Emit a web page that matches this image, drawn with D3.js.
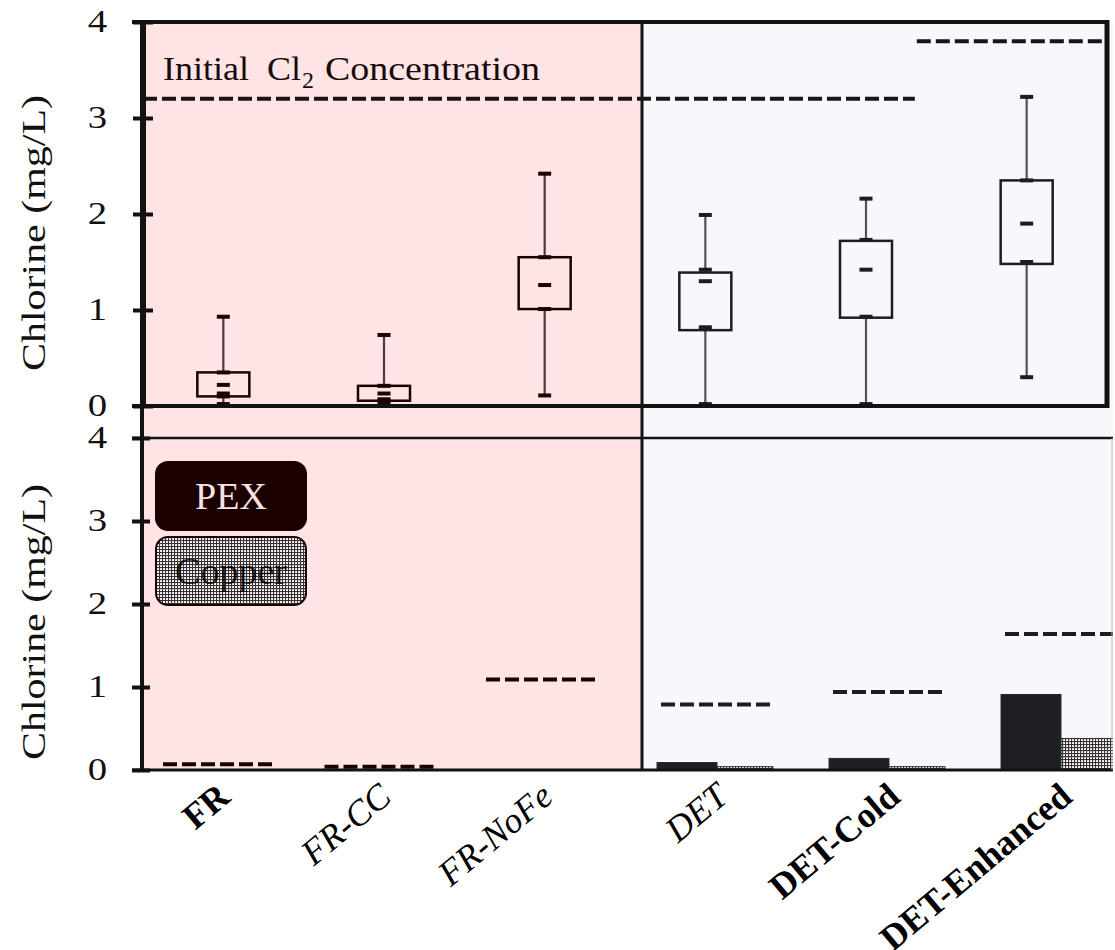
<!DOCTYPE html>
<html>
<head>
<meta charset="utf-8">
<title></title>
<style>
  body { margin: 0; background: #fff; }
  svg text { font-family: "Liberation Serif", "Times New Roman", serif; }
  .axis .domain { display: none; }
  .axis text { font-size: 31px; fill: #111; font-family: "Liberation Serif", serif; }
  .axis line { stroke: #111; stroke-width: 4; }
</style>
</head>
<body>
<script src="https://cdnjs.cloudflare.com/ajax/libs/d3/7.8.5/d3.min.js"></script>
<script>
// ---- data ----
var categories = ["FR", "FR-CC", "FR-NoFe", "DET", "DET-Cold", "DET-Enhanced"];
var boxMin   = [0.02, 0.02, 0.11, 0.02, 0.02, 0.30];
var boxQ1    = [0.10, 0.055, 1.01, 0.79, 0.92, 1.48];
var capQ1    = [0.10, 0.055, 1.01, 0.82, 0.93, 1.50];
var boxQ3    = [0.35, 0.21, 1.55, 1.39, 1.72, 2.35];
var capQ3    = [0.35, 0.21, 1.55, 1.42, 1.73, 2.35];
var boxMax   = [0.93, 0.74, 2.42, 1.99, 2.16, 3.22];
var boxMarks = [[0.22, 0.13], [0.13, 0.07], [1.26], [1.30], [1.42], [1.90]];
var initialCl2 = [3.2, 3.2, 3.2, 3.2, 3.2, 3.8];
var pexValues    = [0, 0, 0, 0.09, 0.14, 0.91];
var copperValues = [0, 0, 0, 0.04, 0.04, 0.38];
var dashValues   = [0.07, 0.04, 1.09, 0.79, 0.94, 1.64];
var yTicks = [0, 1, 2, 3, 4];
var legendItems = ["PEX", "Copper"];
var yTitle = "Chlorine (mg/L)";

// label styles (bold / italic)
var labelStyle = {"FR": "bold", "FR-CC": "italic", "FR-NoFe": "italic",
                  "DET": "italic", "DET-Cold": "bold", "DET-Enhanced": "bold"};

var W = 1115, H = 950;
var svg = d3.select("body").append("svg").attr("width", W).attr("height", H);

var pinkCol = "#fee4e4", blueCol = "#f6f8fc";
function ink(i) { return i < 3 ? "#1a0202" : "#1b1d21"; }
function thin(i) { return i < 3 ? "#4d3a3c" : "#505256"; }

// scales
var xTop = d3.scaleBand().domain(categories).range([143, 1107]);
var yTop = d3.scaleLinear().domain([0, 4]).range([406, 22]);
var yBot = d3.scaleLinear().domain([0, 4]).range([770, 438]);
var xPink = d3.scalePoint().domain(categories.slice(0, 3)).range([219, 542]);
var xBlue = d3.scalePoint().domain(categories.slice(3)).range([717, 1061]);
function xb(c) { return categories.indexOf(c) < 3 ? xPink(c) : xBlue(c); }

// patterns
var defs = svg.append("defs");
var pat = defs.append("pattern").attr("id", "dots").attr("patternUnits", "userSpaceOnUse")
  .attr("width", 3).attr("height", 3);
pat.append("rect").attr("width", 3).attr("height", 3).attr("fill", "#ffffff");
pat.append("rect").attr("width", 1.1).attr("height", 3).attr("fill", "#3a3032");
pat.append("rect").attr("width", 3).attr("height", 1.1).attr("fill", "#3a3032");
var pat2 = defs.append("pattern").attr("id", "holes").attr("patternUnits", "userSpaceOnUse")
  .attr("width", 3).attr("height", 3);
pat2.append("rect").attr("x", 1.3).attr("y", 1.3).attr("width", 1.4).attr("height", 1.4).attr("fill", "#ffffff");
defs.append("clipPath").attr("id", "botclip").append("rect")
  .attr("x", 142).attr("y", 438).attr("width", 971).attr("height", 332);

// backgrounds
svg.append("rect").attr("x", 142).attr("y", 22).attr("width", 500).attr("height", 748).attr("fill", pinkCol);
svg.append("rect").attr("x", 642).attr("y", 22).attr("width", 471).attr("height", 748).attr("fill", blueCol);

// ---------- top panel: box plots ----------
var bw = 52, cw = 13;
var gTop = svg.append("g");
categories.forEach(function(c, i) {
  var cx = xTop(c) + xTop.bandwidth() / 2;
  var g = gTop.append("g");
  // whiskers
  g.append("line").attr("x1", cx).attr("x2", cx).attr("y1", yTop(boxMin[i])).attr("y2", yTop(boxQ1[i]))
    .attr("stroke", thin(i)).attr("stroke-width", 2.2);
  g.append("line").attr("x1", cx).attr("x2", cx).attr("y1", yTop(boxQ3[i])).attr("y2", yTop(boxMax[i]))
    .attr("stroke", thin(i)).attr("stroke-width", 2.2);
  // box
  g.append("rect").attr("x", cx - bw / 2).attr("width", bw)
    .attr("y", yTop(boxQ3[i])).attr("height", yTop(boxQ1[i]) - yTop(boxQ3[i]))
    .attr("fill", "none").attr("stroke", ink(i)).attr("stroke-width", 2.5);
  // caps and marks
  [boxMin[i], capQ1[i], capQ3[i], boxMax[i]].concat(boxMarks[i]).forEach(function(v) {
    g.append("line").attr("x1", cx - cw / 2).attr("x2", cx + cw / 2)
      .attr("y1", yTop(v)).attr("y2", yTop(v))
      .attr("stroke", ink(i)).attr("stroke-width", 4);
  });
});

// initial Cl2 dashed lines (runs of equal value)
var runs = [];
initialCl2.forEach(function(v, i) {
  if (runs.length && runs[runs.length - 1].v === v) runs[runs.length - 1].end = i;
  else runs.push({v: v, start: i, end: i});
});
runs.forEach(function(r, k) {
  var x0 = k === 0 ? xTop.range()[0] : xTop(categories[r.start]) - xTop.step() * 0.19 + 1;
  var x1 = k === runs.length - 1 ? xTop.range()[1] : xTop(categories[runs[k + 1].start]) - xTop.step() * 0.19 - 1;
  gTop.append("line").attr("x1", x0).attr("x2", x1).attr("y1", yTop(r.v)).attr("y2", yTop(r.v))
    .attr("stroke", "#1a1416").attr("stroke-width", 4).attr("stroke-dasharray", "14,5");
});

// Initial Cl2 label
var lab = svg.append("g").attr("fill", "#1a0a0a");
lab.append("text").attr("x", 163).attr("y", 80).attr("font-size", 34)
  .attr("textLength", 86).attr("lengthAdjust", "spacingAndGlyphs").text("Initial");
lab.append("text").attr("x", 267).attr("y", 80).attr("font-size", 34)
  .attr("textLength", 34).attr("lengthAdjust", "spacingAndGlyphs").text("Cl");
lab.append("text").attr("x", 302).attr("y", 88).attr("font-size", 24).text("2");
lab.append("text").attr("x", 325).attr("y", 80).attr("font-size", 34)
  .attr("textLength", 215).attr("lengthAdjust", "spacingAndGlyphs").text("Concentration");

// ---------- bottom panel: bars ----------
var gBot = svg.append("g").attr("clip-path", "url(#botclip)");
var pw = 60, cpw = 56;
categories.forEach(function(c, i) {
  var cx = xb(c);
  if (pexValues[i] > 0)
    gBot.append("rect").attr("x", cx - pw).attr("width", pw)
      .attr("y", yBot(pexValues[i])).attr("height", yBot(0) - yBot(pexValues[i]))
      .attr("fill", "#1d1f22").attr("stroke", "#2a2c30").attr("stroke-width", 1);
  if (copperValues[i] > 0)
    gBot.append("rect").attr("x", cx).attr("width", cpw)
      .attr("y", yBot(copperValues[i])).attr("height", yBot(0) - yBot(copperValues[i]))
      .attr("fill", "url(#dots)").attr("stroke", "#2a2c30").attr("stroke-width", 1);
  gBot.append("line").attr("x1", cx - 56).attr("x2", cx + 56)
    .attr("y1", yBot(dashValues[i])).attr("y2", yBot(dashValues[i]))
    .attr("stroke", ink(i)).attr("stroke-width", 4).attr("stroke-dasharray", "14,5");
});

// legend
var leg = svg.append("g");
legendItems.forEach(function(name, i) {
  var y0 = 462 + i * 75;
  leg.append("rect").attr("x", 156).attr("y", y0).attr("width", 150).attr("height", 68)
    .attr("rx", 12).attr("fill", i === 0 ? "#1a0000" : "url(#dots)")
    .attr("stroke", "#1a0000").attr("stroke-width", 2);
  leg.append("text").attr("x", 231).attr("y", y0 + 47).attr("text-anchor", "middle")
    .attr("font-size", 38).attr("fill", i === 0 ? "#f8e2e2" : "#000")
    .text(name);
  if (i === 1)
    leg.append("rect").attr("x", 157).attr("y", y0 + 1).attr("width", 148).attr("height", 66)
      .attr("rx", 11).attr("fill", "url(#holes)").attr("opacity", 0.35);
});

// ---------- frame and axes ----------
var fr = svg.append("g").attr("stroke", "#121212").attr("fill", "none");
fr.append("line").attr("x1", 132).attr("x2", 1109).attr("y1", 22).attr("y2", 22).attr("stroke-width", 4);
fr.append("line").attr("x1", 1107).attr("x2", 1107).attr("y1", 20).attr("y2", 408).attr("stroke-width", 5);
fr.append("line").attr("x1", 132).attr("x2", 1109).attr("y1", 406).attr("y2", 406).attr("stroke-width", 4);
fr.append("line").attr("x1", 143).attr("x2", 143).attr("y1", 20).attr("y2", 408).attr("stroke-width", 6);
fr.append("line").attr("x1", 142).attr("x2", 142).attr("y1", 406).attr("y2", 772).attr("stroke-width", 4);
fr.append("line").attr("x1", 132).attr("x2", 1113).attr("y1", 438).attr("y2", 438).attr("stroke-width", 2.5);
fr.append("line").attr("x1", 132).attr("x2", 1113).attr("y1", 770).attr("y2", 770).attr("stroke-width", 3);
fr.append("line").attr("x1", 642).attr("x2", 642).attr("y1", 22).attr("y2", 770).attr("stroke-width", 3);
fr.append("line").attr("x1", 1112).attr("x2", 1112).attr("y1", 438).attr("y2", 770).attr("stroke-width", 1).attr("stroke", "#bbb");

var sx = 1.25;
svg.append("g").attr("class", "axis").attr("transform", "translate(143,0)")
  .call(d3.axisLeft(yTop).tickValues(yTicks).tickFormat(d3.format("d")).tickSize(10).tickPadding(26))
  .call(function(a) {
    a.selectAll(".tick line").attr("x1", 10);
    a.selectAll(".tick text").attr("x", -36 / sx).attr("transform", "scale(" + sx + ",1)");
  });
svg.append("g").attr("class", "axis").attr("transform", "translate(142,0)")
  .call(d3.axisLeft(yBot).tickValues(yTicks).tickFormat(d3.format("d")).tickSize(10).tickPadding(25))
  .call(function(a) {
    a.selectAll(".tick line").attr("x1", 8);
    a.selectAll(".tick text").attr("x", -35 / sx).attr("transform", "scale(" + sx + ",1)");
  });

// y titles
[233, 622].forEach(function(cy) {
  svg.append("text").attr("transform", "translate(45," + cy + ") rotate(-90)")
    .attr("text-anchor", "middle").attr("font-size", 33).attr("fill", "#111")
    .attr("textLength", 276).attr("lengthAdjust", "spacingAndGlyphs").text(yTitle);
});

// x labels
categories.forEach(function(c) {
  svg.append("text").attr("transform", "translate(" + (xb(c) + 13) + ",800) rotate(-40)")
    .attr("text-anchor", "end").attr("font-size", 36).attr("fill", "#000")
    .attr("font-weight", labelStyle[c] === "bold" ? "bold" : "normal")
    .attr("font-style", labelStyle[c] === "italic" ? "italic" : "normal")
    .text(c);
});
</script>
</body>
</html>
